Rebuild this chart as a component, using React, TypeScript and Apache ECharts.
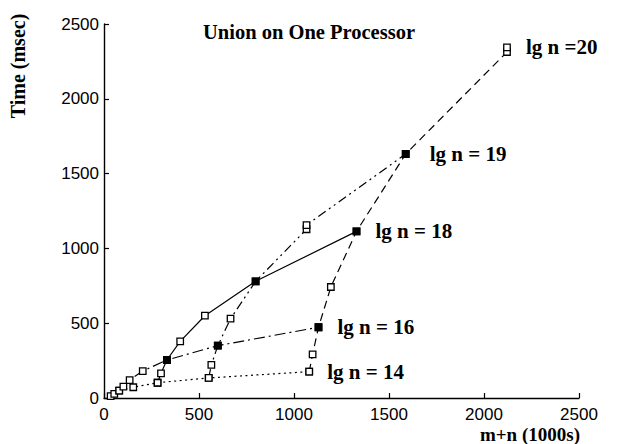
import React, { useEffect, useRef } from "react";
import * as echarts from "echarts";

// Axis ticks
const xTicks = [0, 500, 1000, 1500, 2000, 2500];
const yTicks = [0, 500, 1000, 1500, 2000, 2500];

// Series (m+n in 1000s, time in msec)
const names = ["lg n = 14", "lg n = 16", "lg n = 18", "lg n = 19", "lg n =20"];

const lg14X = [35, 54, 80, 154, 282, 551, 1080];
const lg14Y = [13, 27, 49, 72, 102, 134, 176];

const lg16X = [80, 102, 135, 204, 331, 599, 1129];
const lg16Y = [49, 76, 120, 180, 254, 350, 473];

const lg18X = [282, 300, 331, 401, 531, 798, 1329];
const lg18Y = [102, 165, 254, 379, 550, 780, 1114];

const lg19X = [551, 565, 599, 666, 798, 1066, 1066, 1588];
const lg19Y = [134, 221, 350, 530, 780, 1128, 1156, 1631];

const lg20X = [1080, 1098, 1129, 1194, 1329, 1588, 2121, 2121];
const lg20Y = [176, 292, 473, 742, 1114, 1631, 2313, 2344];

const allX = [lg14X, lg16X, lg18X, lg19X, lg20X];
const allY = [lg14Y, lg16Y, lg18Y, lg19Y, lg20Y];

const title = "Union on One Processor";
const xName = "m+n (1000s)";
const yName = "Time (msec)";

const SERIF = "'Liberation Serif', 'Times New Roman', serif";
const SANS = "'Liberation Sans', Arial, sans-serif";

const dashes: any[] = [[2, 3.5], [11, 4, 2, 4], "solid", [9, 4, 2, 4, 2, 4], [8, 5]];
const labelGap = [18, 19, 19, 24, 19];

export default function App() {
  const ref = useRef<HTMLDivElement>(null);
  useEffect(() => {
    document.body.style.margin = "0";
    const chart = echarts.init(ref.current!, null, { renderer: "svg" });

    // points shared by two of the non-dotted series are drawn filled
    const isShared = (x: number, self: number) =>
      allX.some((xs, k) => k !== 0 && k !== self && xs.includes(x));

    const series = allX.map((xs, si) => ({
      type: "line",
      name: names[si],
      data: xs.map((x, i) => {
        const filled = si !== 0 && isShared(x, si);
        return {
          value: [x, allY[si][i]],
          itemStyle: filled ? { color: "#000", borderColor: "#000" } : undefined,
        };
      }),
      symbol: "rect",
      symbolSize: 6.5,
      showSymbol: true,
      showAllSymbol: true,
      itemStyle: { color: "#fff", borderColor: "#000", borderWidth: 1.3 },
      lineStyle: { color: "#000", width: 1.2, type: dashes[si] },
      endLabel: {
        show: true,
        formatter: names[si],
        distance: labelGap[si],
        fontFamily: SERIF,
        fontWeight: "bold",
        fontSize: 21,
        color: "#000",
      },
      z: 2 + si,
    }));

    const tickFmt = (v: number) => String(v);

    chart.setOption({
      animation: false,
      backgroundColor: "#fff",
      grid: { left: 104, right: 51, top: 24, bottom: 46, containLabel: false },
      xAxis: {
        type: "value",
        min: xTicks[0],
        max: xTicks[xTicks.length - 1],
        interval: xTicks[1] - xTicks[0],
        axisLine: { lineStyle: { color: "#000", width: 1.4 } },
        axisTick: { inside: true, length: 5, lineStyle: { color: "#000", width: 1.2 } },
        axisLabel: { color: "#000", fontFamily: SANS, fontSize: 17, margin: 8, formatter: tickFmt },
        splitLine: { show: false },
      },
      yAxis: {
        type: "value",
        min: yTicks[0],
        max: yTicks[yTicks.length - 1],
        interval: yTicks[1] - yTicks[0],
        axisLine: { show: true, lineStyle: { color: "#000", width: 1.4 } },
        axisTick: { show: true, inside: true, length: 5, lineStyle: { color: "#000", width: 1.2 } },
        axisLabel: { color: "#000", fontFamily: SANS, fontSize: 17, margin: 5, formatter: tickFmt },
        splitLine: { show: false },
      },
      graphic: [
        {
          type: "text",
          x: 309,
          y: 32,
          style: {
            text: title,
            fontFamily: SERIF,
            fontWeight: "bold",
            fontSize: 20.5,
            fill: "#000",
            textAlign: "center",
            textVerticalAlign: "middle",
          },
        },
        {
          type: "text",
          x: 580,
          y: 434,
          style: {
            text: xName,
            fontFamily: SERIF,
            fontWeight: "bold",
            fontSize: 19,
            fill: "#000",
            textAlign: "right",
            textVerticalAlign: "middle",
          },
        },
        {
          type: "text",
          x: 18,
          y: 66,
          rotation: Math.PI / 2,
          style: {
            text: yName,
            fontFamily: SERIF,
            fontWeight: "bold",
            fontSize: 20,
            fill: "#000",
            textAlign: "center",
            textVerticalAlign: "middle",
          },
        },
      ],
      series,
    });
    return () => chart.dispose();
  }, []);
  return <div ref={ref} style={{ width: 630, height: 444 }} />;
}
